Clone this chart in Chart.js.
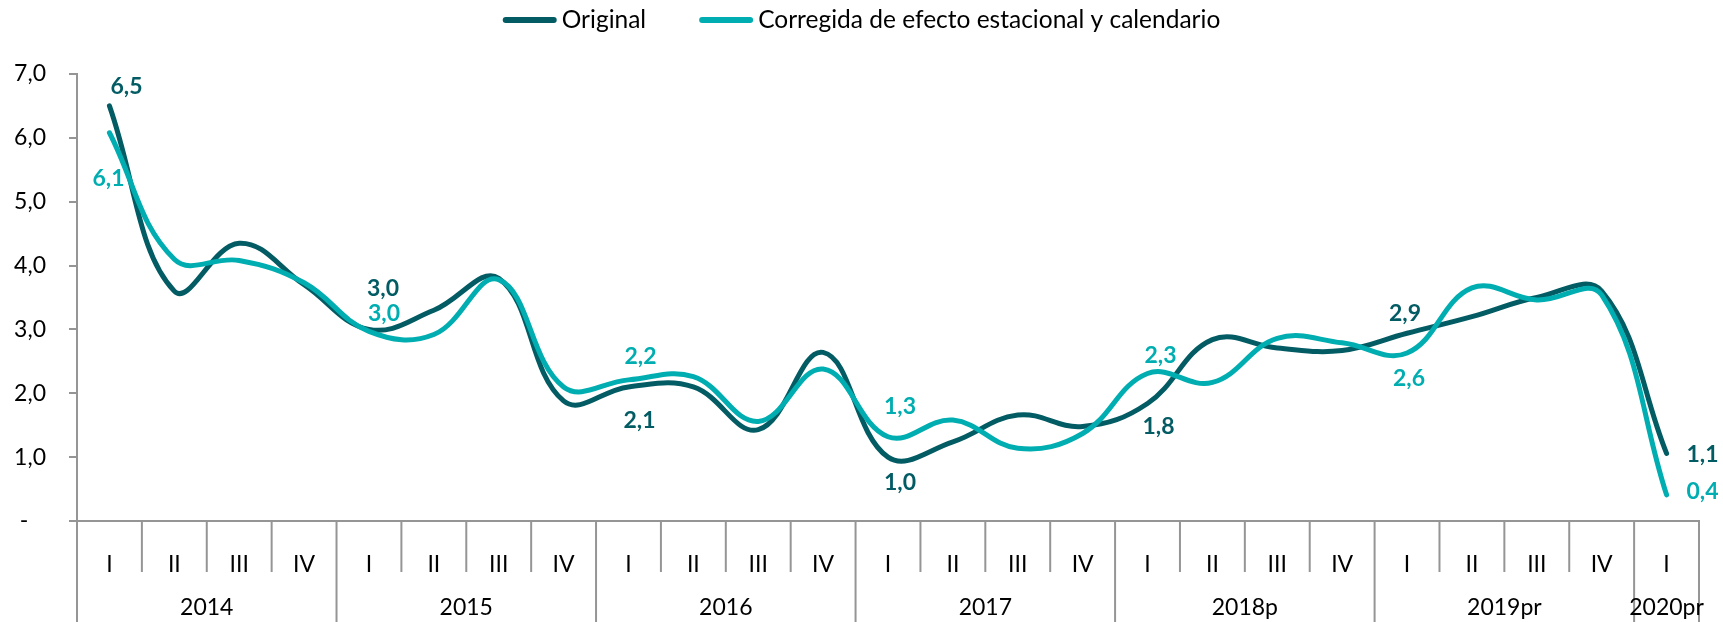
<!DOCTYPE html>
<html>
<head>
<meta charset="utf-8">
<script src="https://cdn.jsdelivr.net/npm/chart.js@4.4.1/dist/chart.umd.min.js"></script>
<style>
    html, body { margin: 0; padding: 0; background: #fff; }
    canvas { display: block; }
</style>
</head>
<body>
<canvas id="pibChart" width="1723" height="622"></canvas>
<script>
// Trimestres y años
const quarters = ['I', 'II', 'III', 'IV', 'I', 'II', 'III', 'IV', 'I', 'II', 'III', 'IV',
                  'I', 'II', 'III', 'IV', 'I', 'II', 'III', 'IV', 'I', 'II', 'III', 'IV', 'I'];
const years = ['2014', '2015', '2016', '2017', '2018p', '2019pr', '2020pr'];
const yearSpans = [4, 4, 4, 4, 4, 4, 1];

// Series
const original = [6.5, 3.6, 4.35, 3.7, 3.0, 3.3, 3.8, 1.88, 2.1, 2.1, 1.43, 2.64,
                  1.0, 1.24, 1.66, 1.48, 1.84, 2.84, 2.71, 2.67, 2.94, 3.2, 3.5, 3.6, 1.06];
const corregida = [6.08, 4.1, 4.08, 3.73, 2.97, 2.92, 3.78, 2.1, 2.21, 2.26, 1.56, 2.38,
                   1.32, 1.58, 1.14, 1.37, 2.31, 2.17, 2.86, 2.79, 2.63, 3.65, 3.46, 3.54, 0.41];

// Ticks del eje Y
const yTicks = [0, 1, 2, 3, 4, 5, 6, 7];

// Etiquetas de datos: solo el primer trimestre de cada año
const labelIdx = [0, 4, 8, 12, 16, 20, 24];
const originalLabelOffsets = [[17, -19], [14, -41], [11, 34], [12, 25], [11, 23], [-2, -20], [36, 1]];
const corregidaLabelOffsets = [[-1, 46], [15, -18], [12, -23], [12, -30], [13, -18], [2, 26], [36, -3]];

const darkColor = '#035C64';
const lightColor = '#00ADB0';
const gridColor = '#959595';
const FONT = 'Lato';

function fmt(v) {
    return v.toFixed(1).replace('.', ',');
}

// Etiquetas de valores
const etiquetasPlugin = {
    id: 'etiquetas',
    afterDatasetsDraw(chart) {
        const ctx = chart.ctx;
        ctx.save();
        ctx.font = 'bold 23px ' + FONT;
        ctx.textAlign = 'center';
        ctx.textBaseline = 'middle';
        chart.data.datasets.forEach((ds, d) => {
            const meta = chart.getDatasetMeta(d);
            ctx.fillStyle = ds.borderColor;
            labelIdx.forEach((idx, k) => {
                const pt = meta.data[idx];
                const off = ds.labelOffsets[k];
                ctx.fillText(fmt(ds.data[idx]), pt.x + off[0], pt.y + off[1]);
            });
        });
        ctx.restore();
    }
};

// Leyenda superior
const leyendaPlugin = {
    id: 'leyenda',
    afterDraw(chart) {
        const ctx = chart.ctx;
        ctx.save();
        ctx.font = '24.5px ' + FONT;
        const lineLen = 54, gapText = 5, gapItem = 53;
        const items = chart.data.datasets.map(ds => ({
            text: ds.label, color: ds.borderColor, w: ctx.measureText(ds.label).width
        }));
        const total = items.reduce((s, it) => s + lineLen + gapText + it.w, 0) + gapItem * (items.length - 1);
        let x = (chart.width - total) / 2;
        const y = 20;
        items.forEach(it => {
            ctx.strokeStyle = it.color;
            ctx.lineWidth = 6;
            ctx.lineCap = 'round';
            ctx.beginPath();
            ctx.moveTo(x + 3, y);
            ctx.lineTo(x + lineLen - 3, y);
            ctx.stroke();
            x += lineLen + gapText;
            ctx.fillStyle = '#000';
            ctx.textBaseline = 'middle';
            ctx.textAlign = 'left';
            ctx.fillText(it.text, x, y);
            x += it.w + gapItem;
        });
        ctx.restore();
    }
};

// Separadores de trimestres y etiquetas de años
const ejeAnualPlugin = {
    id: 'ejeAnual',
    afterDraw(chart) {
        const xs = chart.scales.x;
        const ctx = chart.ctx;
        const n = quarters.length;
        const half = (xs.getPixelForValue(1) - xs.getPixelForValue(0)) / 2;
        const base = xs.top;
        const starts = [];
        let acc = 0;
        yearSpans.forEach(s => { starts.push(acc); acc += s; });

        ctx.save();
        ctx.strokeStyle = gridColor;
        ctx.lineWidth = 2;
        for (let i = 0; i <= n; i++) {
            const x = i < n ? xs.getPixelForValue(i) - half : xs.getPixelForValue(n - 1) + half;
            const isYear = starts.includes(i) || i === n;
            ctx.beginPath();
            ctx.moveTo(x, base);
            ctx.lineTo(x, isYear ? chart.height : base + 51);
            ctx.stroke();
        }

        ctx.font = '23px ' + FONT;
        ctx.fillStyle = '#000';
        ctx.textAlign = 'center';
        ctx.textBaseline = 'middle';
        years.forEach((label, k) => {
            const a = xs.getPixelForValue(starts[k]) - half;
            const b = xs.getPixelForValue(starts[k] + yearSpans[k] - 1) + half;
            ctx.fillText(label, (a + b) / 2, base + 87);
        });
        ctx.restore();
    }
};

Chart.defaults.font.family = FONT;
Chart.defaults.color = '#000';

const ctx = document.getElementById('pibChart').getContext('2d');
new Chart(ctx, {
    type: 'line',
    data: {
        labels: quarters,
        datasets: [{
            label: 'Original',
            data: original,
            borderColor: darkColor,
            backgroundColor: darkColor,
            borderWidth: 5,
            borderCapStyle: 'round',
            pointRadius: 0,
            tension: 0.4,
            order: 1,
            labelOffsets: originalLabelOffsets
        }, {
            label: 'Corregida de efecto estacional y calendario',
            data: corregida,
            borderColor: lightColor,
            backgroundColor: lightColor,
            borderWidth: 5,
            borderCapStyle: 'round',
            pointRadius: 0,
            tension: 0.4,
            order: 0,
            labelOffsets: corregidaLabelOffsets
        }]
    },
    options: {
        responsive: false,
        animation: false,
        devicePixelRatio: 1,
        layout: { padding: { top: 74, right: 24, left: 0, bottom: 0 } },
        plugins: {
            legend: { display: false },
            tooltip: { enabled: false }
        },
        scales: {
            x: {
                offset: true,
                grid: { display: false },
                border: { display: true, color: gridColor, width: 2 },
                ticks: {
                    autoSkip: false,
                    maxRotation: 0,
                    padding: 22,
                    font: { size: 23 }
                },
                afterFit(scale) { scale.height = 101; }
            },
            y: {
                min: 0,
                max: 7,
                afterBuildTicks(scale) { scale.ticks = yTicks.map(v => ({ value: v })); },
                grid: { drawOnChartArea: false, drawTicks: true, tickLength: 8, color: gridColor, lineWidth: 2 },
                border: { display: true, color: gridColor, width: 2 },
                ticks: {
                    padding: 23,
                    font: { size: 23 },
                    callback: v => v === 0 ? '-   ' : fmt(v)
                },
                afterFit(scale) { scale.width = 77; }
            }
        }
    },
    plugins: [etiquetasPlugin, leyendaPlugin, ejeAnualPlugin]
});
</script>
</body>
</html>
